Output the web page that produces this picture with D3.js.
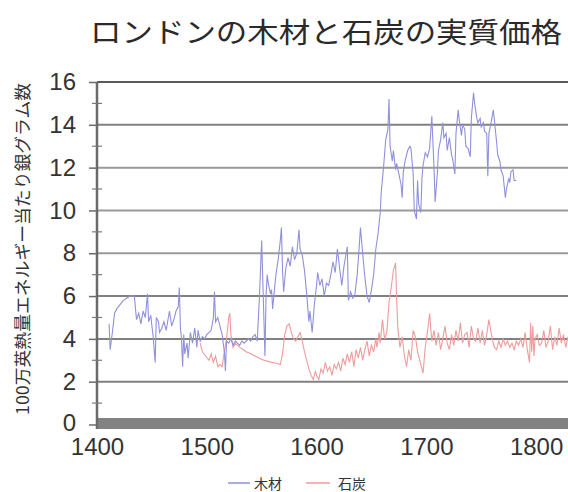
<!DOCTYPE html>
<html><head><meta charset="utf-8">
<script src="https://cdn.jsdelivr.net/npm/d3@7/dist/d3.min.js"></script>
<style>body{margin:0;background:#fff}svg{display:block}</style>
</head><body><svg id="c" width="568" height="492"></svg>
<script>
const title = "ロンドンの木材と石炭の実質価格";
const yLabel = "100万英熱量エネルギー当たり銀グラム数";
const seriesNames = ["木材", "石炭"];
const xTicks = [1400, 1500, 1600, 1700, 1800];
const yTicks = [0, 2, 4, 6, 8, 10, 12, 14, 16];

const woodYears = [1411,1412,1414,1416,1418,1421,1424,1427,1430,1434,1436,1438,1440,1442,1444,1446,1447,1449,1450,1451,1453,1454,1456,1457,1459,1461,1463,1465,1466,1468,1470,1472,1474,1475,1476,1477,1478,1479,1480,1482,1483,1485,1487,1489,1491,1492,1494,1496,1498,1500,1502,1504,1506,1507,1508,1510,1512,1514,1516,1517,1518,1520,1522,1524,1526,1528,1530,1532,1534,1536,1538,1540,1542,1544,1546,1548,1550,1551,1553,1554,1555,1556,1558,1559,1560,1562,1563,1565,1567,1568,1569,1570,1572,1574,1576,1578,1580,1582,1584,1585,1587,1589,1591,1593,1594,1596,1598,1600,1601,1603,1605,1607,1609,1611,1613,1615,1617,1619,1621,1623,1625,1627,1628,1629,1631,1633,1635,1637,1639,1640,1642,1644,1646,1648,1650,1652,1654,1656,1658,1659,1661,1663,1665,1666,1667,1669,1670,1672,1673,1675,1677,1678,1679,1681,1683,1685,1686,1688,1689,1691,1692,1693,1695,1696,1697,1699,1701,1703,1705,1706,1707,1708,1710,1711,1713,1715,1716,1718,1719,1721,1723,1724,1726,1727,1729,1730,1732,1733,1735,1736,1738,1740,1741,1743,1744,1746,1747,1749,1750,1752,1753,1755,1756,1757,1759,1761,1762,1764,1765,1767,1768,1770,1772,1773,1775,1776,1777,1779,1780,1782];
const woodValues = [4.7,3.5,4.3,5.2,5.4,5.6,5.8,5.9,6.0,6.0,4.9,5.2,4.7,5.3,5.0,6.1,4.8,5.1,4.6,4.2,2.9,5.0,4.8,4.3,4.5,4.8,4.4,5.0,5.3,4.6,4.9,5.3,5.5,6.4,4.5,4.0,2.7,4.2,3.3,3.8,3.1,4.3,3.8,4.5,3.6,4.4,3.9,4.1,4.0,4.2,4.3,4.4,5.0,6.2,4.8,5.0,4.6,4.2,3.4,2.5,3.9,3.8,4.0,3.7,3.9,3.8,3.7,3.9,3.8,3.9,4.0,3.9,4.1,4.2,3.9,6.0,8.6,6.8,3.2,6.0,7.0,6.6,6.1,6.3,5.4,6.5,7.0,7.7,8.6,9.2,7.2,6.2,7.3,7.8,7.4,8.3,7.7,8.0,9.1,8.2,7.9,7.2,6.1,4.8,5.3,4.3,5.6,6.5,7.1,6.5,6.8,6.0,6.6,6.5,7.0,7.6,7.1,8.2,7.3,6.5,7.4,8.0,8.3,5.8,6.2,5.9,6.1,7.0,8.4,9.2,8.0,6.9,6.0,5.7,6.3,7.0,8.2,8.9,9.9,10.9,12.0,13.3,13.8,15.2,13.0,12.3,12.8,11.9,12.2,11.7,11.2,10.6,11.8,12.4,12.8,13.0,12.9,11.7,10.0,9.6,11.4,10.3,9.9,11.5,12.1,12.7,12.5,12.9,14.4,13.2,12.0,10.4,11.7,12.8,13.3,14.1,13.4,13.6,12.8,13.4,12.6,12.4,11.7,13.6,14.7,14.2,13.5,14.0,13.8,13.0,12.9,12.5,14.3,15.5,15.0,14.3,14.1,14.3,13.9,14.1,13.7,13.6,11.6,13.6,14.1,14.7,14.2,13.2,12.6,12.3,11.9,11.6,10.6,11.0,11.5,11.3,11.8,11.9,11.4,11.4];

const coalYears = [1494,1496,1499,1502,1504,1506,1508,1510,1512,1514,1516,1518,1520,1521,1522,1524,1526,1528,1530,1533,1536,1540,1544,1548,1552,1556,1560,1564,1567,1569,1571,1573,1575,1577,1579,1581,1583,1585,1587,1589,1591,1593,1595,1597,1599,1600,1602,1604,1606,1608,1610,1612,1614,1616,1618,1620,1622,1624,1626,1628,1630,1632,1634,1636,1638,1640,1642,1644,1646,1648,1650,1652,1654,1655,1657,1658,1660,1662,1664,1666,1668,1670,1672,1673,1674,1676,1678,1680,1682,1684,1686,1688,1690,1692,1695,1697,1699,1701,1703,1705,1707,1709,1711,1713,1715,1717,1719,1721,1723,1725,1727,1729,1731,1733,1735,1737,1739,1741,1743,1745,1747,1749,1751,1753,1755,1757,1758,1760,1762,1764,1766,1768,1770,1772,1774,1776,1778,1780,1782,1784,1786,1788,1790,1792,1794,1795,1796,1797,1798,1799,1801,1803,1805,1807,1809,1811,1813,1815,1817,1819,1821,1823,1825,1827,1829];
const coalValues = [3.8,3.4,3.2,3.0,3.3,2.9,3.2,2.7,2.8,2.7,3.4,4.0,5.0,5.2,4.2,3.6,3.8,3.7,3.6,3.5,3.4,3.3,3.2,3.1,3.0,2.95,2.9,2.85,2.8,3.3,4.2,4.6,4.7,4.3,4.0,3.9,4.1,4.3,3.9,3.4,3.0,2.6,2.3,2.1,2.5,2.3,2.1,2.6,2.4,2.9,2.5,2.7,2.3,2.8,2.6,2.9,2.5,3.1,2.8,3.3,2.9,3.4,2.7,3.5,3.1,3.6,3.0,3.5,3.9,3.2,3.7,3.4,4.0,3.6,4.3,3.8,4.9,4.0,4.3,5.7,6.4,7.2,7.55,5.8,4.5,3.6,4.1,3.2,2.7,3.5,3.0,4.4,4.1,3.4,2.8,2.4,3.6,4.3,5.2,3.9,4.4,3.7,4.3,3.5,4.0,4.6,3.8,3.5,4.2,3.7,4.4,3.9,4.75,3.8,4.2,4.3,3.6,4.6,4.0,3.9,4.5,3.8,4.4,3.7,4.2,4.9,4.6,4.0,3.6,3.5,3.9,3.6,4.0,3.7,3.9,3.6,3.8,3.5,3.9,3.7,4.0,3.6,4.3,3.5,2.9,4.75,3.4,4.6,3.2,4.0,4.2,3.7,3.8,4.4,3.6,3.9,4.6,3.5,4.1,3.7,4.5,3.8,4.2,3.6,4.1];

const colors = ["#9090dc", "#ee9c9c"];
const svg = d3.select("#c");
const W = 568, H = 492;
svg.append("rect").attr("width", W).attr("height", H).attr("fill", "#fff");

const x = d3.scaleLinear().domain([1400, 1850]).range([97, 591]);
const y = d3.scaleLinear().domain([0, 16]).range([424.5, 82]);

// gridlines
const grid = svg.append("g");
yTicks.filter(v => v > 0).forEach(v => {
  grid.append("line").attr("x1", 97).attr("x2", W)
    .attr("y1", y(v)).attr("y2", y(v))
    .attr("stroke", v === 16 ? "#5a5a5a" : (v >= 8 && v <= 12 ? "#9a9a9a" : "#808080"))
    .attr("stroke-width", 2);
});

// bottom band
svg.append("rect").attr("x", 97).attr("y", 418).attr("width", W - 97).attr("height", 11).attr("fill", "#828282");

// lines
const lineGen = d3.line().x(d => x(d[0])).y(d => y(d[1]));
const wood = woodYears.map((yr, i) => [yr, woodValues[i]]);
const coal = coalYears.map((yr, i) => [yr, coalValues[i]]);
svg.append("path").datum(coal).attr("d", lineGen).attr("fill", "none").attr("stroke", colors[1]).attr("stroke-width", 1.1);
svg.append("path").datum(wood).attr("d", lineGen).attr("fill", "none").attr("stroke", colors[0]).attr("stroke-width", 1.1);

// y axis
const yAxis = d3.axisLeft(y).tickValues(yTicks).tickSize(8).tickPadding(13).tickFormat(d3.format("d"));
const gy = svg.append("g").attr("transform", "translate(97,0)").call(yAxis);
gy.select(".domain").attr("stroke", "#6a6a6a").attr("stroke-width", 2.5).attr("d", "M0,82V429");
gy.selectAll(".tick line").attr("stroke", "#6a6a6a").attr("stroke-width", 1.5);
gy.selectAll(".tick text").attr("font-family", "Liberation Sans, Arial, sans-serif").attr("font-size", 24).attr("fill", "#333");
gy.selectAll(".tick").filter(d => d === 0).select("text").attr("dy", "0.25em");
// minor ticks
const minor = d3.range(1, 16, 2);
svg.append("g").selectAll("line").data(minor).join("line")
  .attr("x1", 92).attr("x2", 102).attr("y1", d => y(d)).attr("y2", d => y(d))
  .attr("stroke", "#7a7a7a").attr("stroke-width", 1.2);

// x axis labels
const xAxis = d3.axisBottom(x).tickValues(xTicks).tickSize(0).tickPadding(9).tickFormat(d3.format("d"));
const gx = svg.append("g").attr("transform", "translate(0,429)").call(xAxis);
gx.select(".domain").remove();
gx.selectAll(".tick text").attr("font-family", "Liberation Sans, Arial, sans-serif").attr("font-size", 24).attr("fill", "#333");

// title
svg.append("text").attr("x", 326).attr("y", 43).attr("text-anchor", "middle")
  .attr("font-family", "Noto Sans CJK JP, sans-serif").attr("font-size", 28).attr("fill", "#2a2a2a")
  .attr("textLength", 472).attr("lengthAdjust", "spacingAndGlyphs").text(title);

// y label
svg.append("text").attr("transform", "translate(29,249) rotate(-90)").attr("text-anchor", "middle")
  .attr("font-family", "Noto Sans CJK JP, sans-serif").attr("font-size", 17).attr("fill", "#333")
  .attr("textLength", 332).attr("lengthAdjust", "spacingAndGlyphs").text(yLabel);

// legend
const leg = [{x1: 228, x2: 250, tx: 254}, {x1: 306, x2: 330, tx: 338}];
seriesNames.forEach((n, i) => {
  svg.append("line").attr("x1", leg[i].x1).attr("x2", leg[i].x2).attr("y1", 483).attr("y2", 483)
    .attr("stroke", colors[i]).attr("stroke-width", 1.5);
  svg.append("text").attr("x", leg[i].tx).attr("y", 489).attr("font-family", "Noto Sans CJK JP, sans-serif")
    .attr("font-size", 14).attr("fill", "#333").text(n);
});
</script></body></html>
